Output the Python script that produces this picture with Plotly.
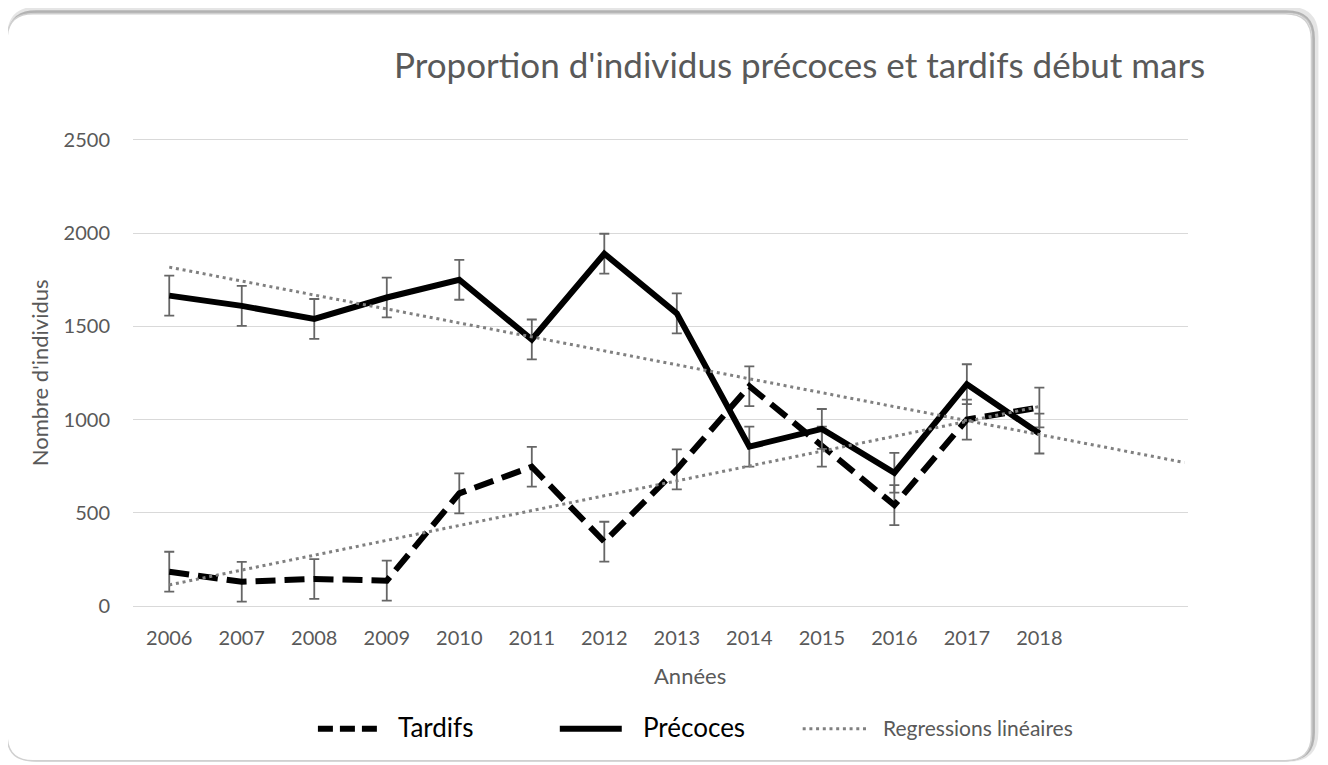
import plotly.graph_objects as go

# values
YEARS = [2006, 2007, 2008, 2009, 2010, 2011, 2012, 2013, 2014, 2015, 2016, 2017, 2018]
PRECOCES = [1665, 1610, 1540, 1655, 1750, 1430, 1890, 1570, 855, 950, 715, 1190, 925]
TARDIFS = [184, 130, 145, 136, 604, 747, 345, 733, 1179, 855, 541, 1000, 1065]
ERR_BAR = 107

TREND_PRECOCES_X = [2006, 2020]
TREND_PRECOCES_Y = [1818, 770]
TREND_TARDIFS_X = [2006, 2018]
TREND_TARDIFS_Y = [113, 1070]

Y_TICKS = [0, 500, 1000, 1500, 2000, 2500]

TITLE = "Proportion d'individus précoces et tardifs début mars"
GREY_TEXT = "#595959"
GRID = "#d9d9d9"
FONT = "Lato"

# the page body keeps its default 8px margin, so the figure is shrunk by that
# much and all positions below are given in page pixels
OFF = 8
W, H = 1328 - OFF, 765 - OFF
L, R = 133 - OFF, W - (1188.5 - OFF)
T, B = 139.5 - OFF, H - (606 - OFF)
PW = W - L - R
PH = H - T - B


def px(x):
    return (x - OFF - L) / PW


def py(y):
    return (H - B - (y - OFF)) / PH


def rounded_rect(x0, y0, x1, y1, r):
    parts = [
        f"M{px(x0 + r)},{py(y0)}",
        f"L{px(x1 - r)},{py(y0)}",
        f"Q{px(x1)},{py(y0)} {px(x1)},{py(y0 + r)}",
        f"L{px(x1)},{py(y1 - r)}",
        f"Q{px(x1)},{py(y1)} {px(x1 - r)},{py(y1)}",
        f"L{px(x0 + r)},{py(y1)}",
        f"Q{px(x0)},{py(y1)} {px(x0)},{py(y1 - r)}",
        f"L{px(x0)},{py(y0 + r)}",
        f"Q{px(x0)},{py(y0)} {px(x0 + r)},{py(y0)}",
        "Z",
    ]
    return " ".join(parts)


fig = go.Figure()

err = dict(type="constant", value=ERR_BAR, color="#666666", thickness=1.8, width=5)

fig.add_trace(go.Scatter(
    x=YEARS, y=TARDIFS, mode="lines", name="Tardifs",
    line=dict(color="black", width=6, dash="20px,9px"),
    error_y=err, showlegend=False,
))
fig.add_trace(go.Scatter(
    x=YEARS, y=PRECOCES, mode="lines", name="Précoces",
    line=dict(color="black", width=6),
    error_y=err, showlegend=False,
))
for tx, ty in [(TREND_TARDIFS_X, TREND_TARDIFS_Y), (TREND_PRECOCES_X, TREND_PRECOCES_Y)]:
    fig.add_trace(go.Scatter(
        x=tx, y=ty, mode="lines", name="Regressions linéaires",
        line=dict(color="#808080", width=3, dash="3px,3.8px"),
        showlegend=False, hoverinfo="skip",
    ))

shapes = [
    # chart-area frame with a soft shadow towards the top right
    dict(type="path", xref="paper", yref="paper", path=rounded_rect(10, 9, 1316, 759, 27),
         line=dict(color="rgba(0,0,0,0.10)", width=6), layer="below"),
    dict(type="path", xref="paper", yref="paper", path=rounded_rect(9, 11, 1314, 760, 27),
         line=dict(color="rgba(0,0,0,0.22)", width=3), layer="below"),
    dict(type="path", xref="paper", yref="paper", path=rounded_rect(7, 13, 1312, 761, 26),
         line=dict(color="#d0d0d0", width=1.5), fillcolor="white", layer="below"),
    # legend samples
    dict(type="line", xref="paper", yref="paper", x0=px(318), x1=px(377), y0=py(729), y1=py(729),
         line=dict(color="black", width=6, dash="15px,7px")),
    dict(type="line", xref="paper", yref="paper", x0=px(560), x1=px(622), y0=py(729), y1=py(729),
         line=dict(color="black", width=6)),
    dict(type="line", xref="paper", yref="paper", x0=px(803), x1=px(868), y0=py(729), y1=py(729),
         line=dict(color="#808080", width=3, dash="3px,3.7px")),
]

annotations = [
    dict(text=TITLE, x=px(800), y=py(63), xref="paper", yref="paper", showarrow=False,
         xanchor="center", yanchor="middle", font=dict(family=FONT, size=35, color=GREY_TEXT)),
    dict(text="Nombre d'individus", x=px(39), y=py(373), xref="paper", yref="paper", showarrow=False,
         textangle=-90, xanchor="center", yanchor="middle",
         font=dict(family=FONT, size=22, color=GREY_TEXT)),
    dict(text="Années", x=px(690), y=py(676), xref="paper", yref="paper", showarrow=False,
         xanchor="center", yanchor="middle", font=dict(family=FONT, size=22, color=GREY_TEXT)),
    dict(text="Tardifs", x=px(396), y=py(727), xref="paper", yref="paper", showarrow=False,
         xanchor="left", yanchor="middle", font=dict(family=FONT, size=26, color="black")),
    dict(text="Précoces", x=px(641), y=py(727), xref="paper", yref="paper", showarrow=False,
         xanchor="left", yanchor="middle", font=dict(family=FONT, size=26, color="black")),
    dict(text="Regressions linéaires", x=px(881), y=py(728), xref="paper", yref="paper", showarrow=False,
         xanchor="left", yanchor="middle", font=dict(family=FONT, size=21, color=GREY_TEXT)),
]

fig.update_layout(
    width=W, height=H,
    margin=dict(l=L, r=R, t=T, b=B),
    paper_bgcolor="white", plot_bgcolor="white",
    font=dict(family=FONT, size=20, color=GREY_TEXT),
    showlegend=False,
    shapes=shapes,
    annotations=annotations,
    xaxis=dict(
        range=[2005.5, 2020.05], tickvals=YEARS, ticktext=[str(y) for y in YEARS],
        showgrid=False, zeroline=False, ticks="",
        showline=True, linecolor=GRID, linewidth=1.3, mirror=True,
        tickfont=dict(family=FONT, size=20, color=GREY_TEXT), ticklabelstandoff=14,
    ),
    yaxis=dict(
        range=[0, 2500], tickvals=Y_TICKS, showgrid=True, gridcolor=GRID, gridwidth=1.3,
        zeroline=False, showline=False, ticks="",
        tickfont=dict(family=FONT, size=20, color=GREY_TEXT), ticklabelstandoff=22,
    ),
)

fig.write_html("out.html")
